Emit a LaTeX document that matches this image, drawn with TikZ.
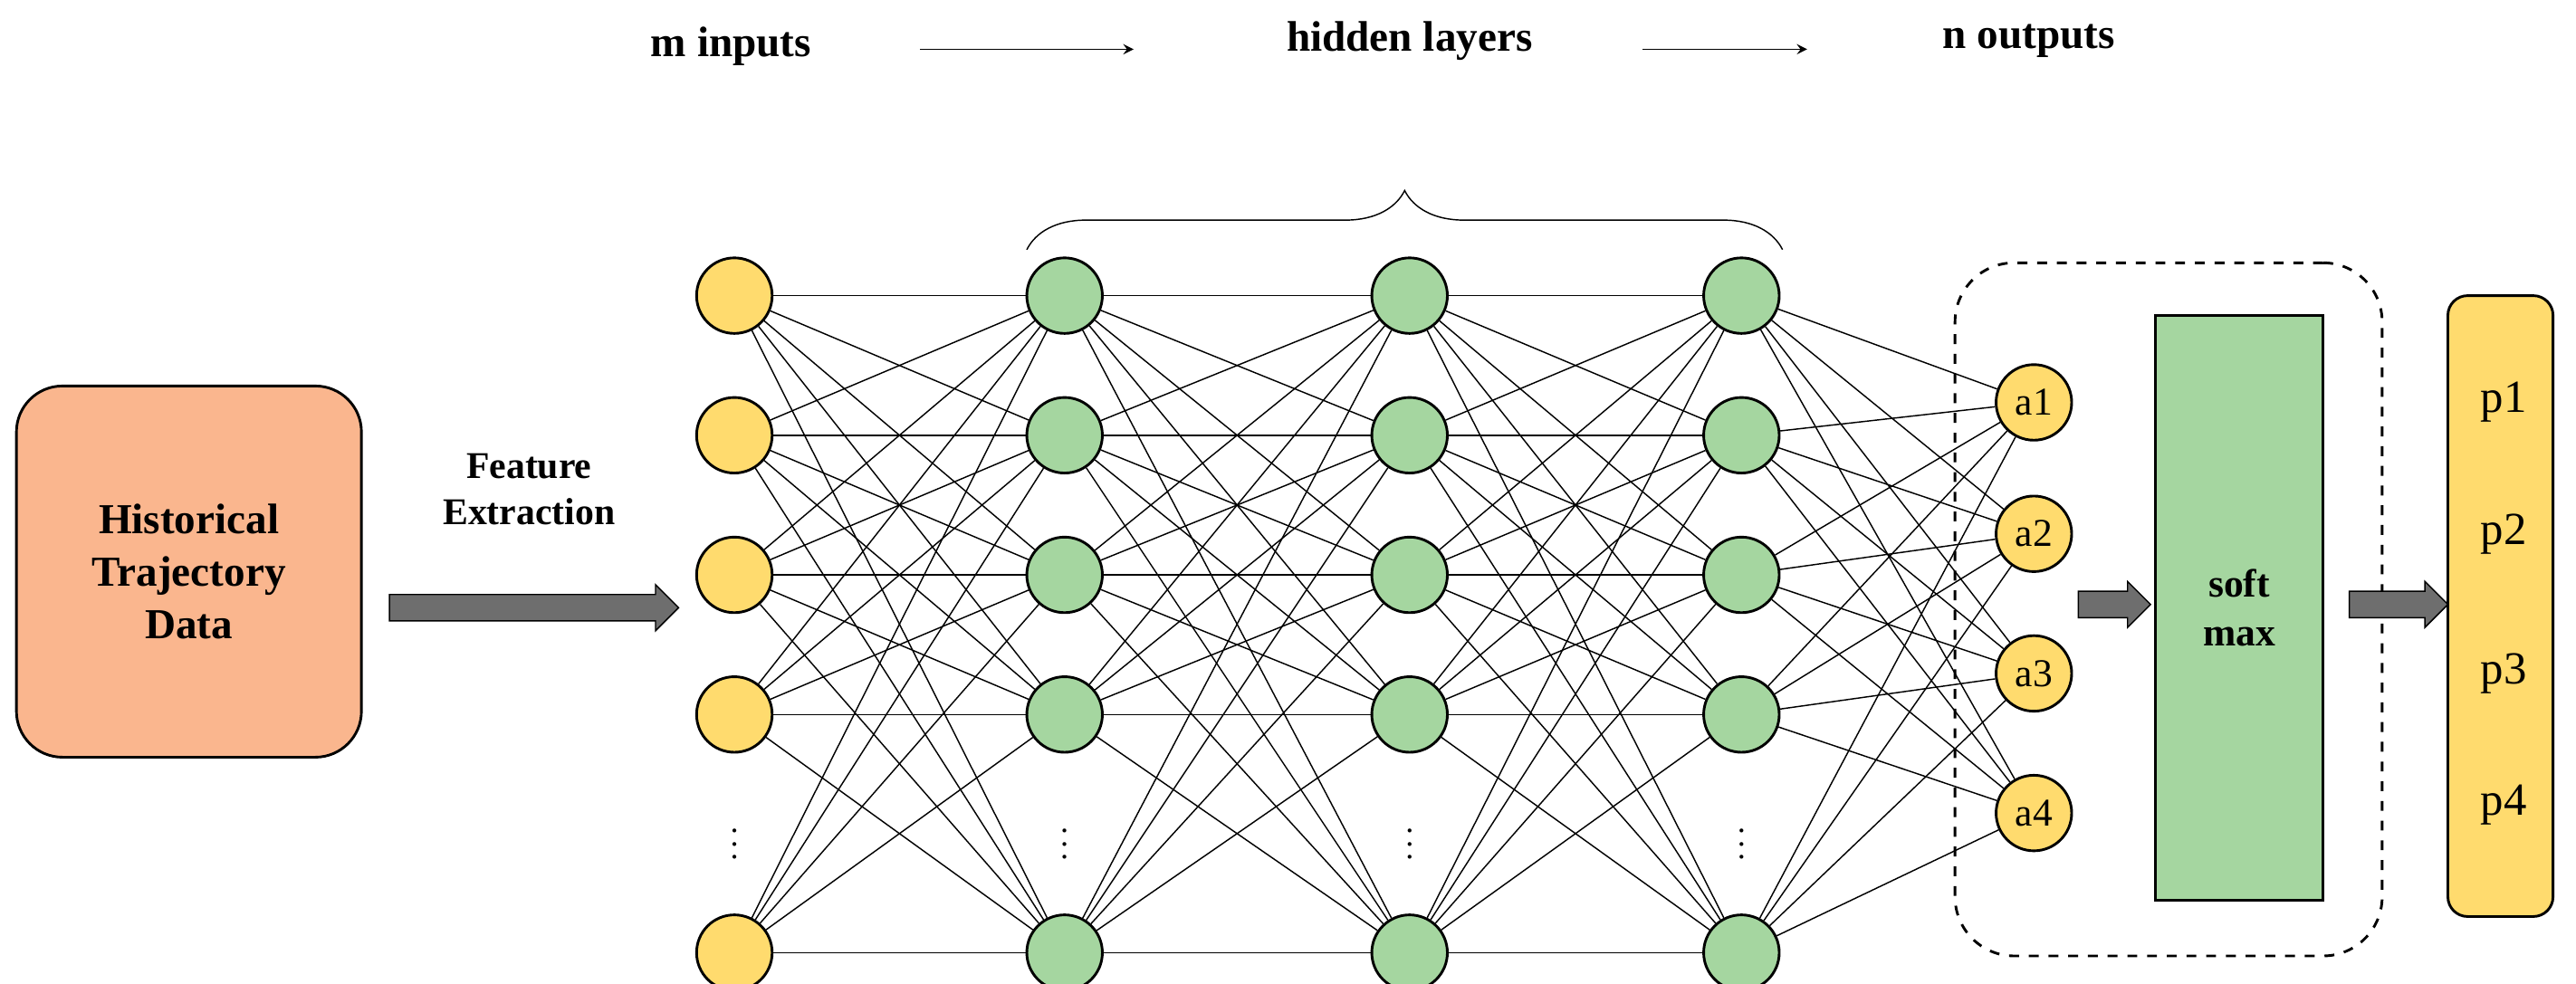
\documentclass[tikz,border=0pt]{standalone}
\usepackage{fontspec}
\setmainfont{Liberation Serif}
\usetikzlibrary{shapes.arrows,decorations.pathreplacing}
\definecolor{inyellow}{RGB}{255,219,110}
\definecolor{hidgreen}{RGB}{165,214,160}
\definecolor{boxorange}{RGB}{250,182,142}
\definecolor{fatgray}{RGB}{110,110,110}
\tikzset{in neuron/.style={draw, circle, thick, fill=inyellow, minimum size=23pt, inner sep=0pt},
hid neuron/.style={draw, circle, thick, fill=hidgreen, minimum size=23pt, inner sep=0pt},
out neuron/.style={draw, circle, thick, fill=inyellow, minimum size=23pt, inner sep=0pt, font=\fontsize{12}{12}\selectfont},
fat arrow/.style={single arrow, draw, fill=fatgray, minimum height=#1, minimum width=14pt, single arrow head extend=2pt, inner sep=2.5pt},
title text/.style={font=\bfseries\fontsize{13}{13}\selectfont},}

\begin{document}
\begin{tikzpicture}[x=0.5pt,y=-0.5pt]
\useasboundingbox (0,0) rectangle (1568,599);
% top labels
\node [title text] (minp) at (445,28) {m inputs};
\node [title text] (hid) at (858,25) {hidden layers};
\node [title text] (nout) at (1235,25) {n outputs};
\coordinate (a1s) at (560,30); \coordinate (a1e) at (690,30);
\coordinate (a2s) at (1000,30); \coordinate (a2e) at (1100,30);
\draw [-stealth] (a1s) -- (a1e);
\draw [-stealth] (a2s) -- (a2e);
\coordinate (brl) at (625,152); \coordinate (brr) at (1085,152);
\draw [decorate, decoration={brace, amplitude=18pt}] (brl) -- (brr);
% input box
\node [draw, thick, rounded corners=14pt, fill=boxorange, minimum width=105pt, minimum height=113pt, align=center, font=\bfseries\fontsize{13}{16}\selectfont] (data) at (115,348) {Historical\\Trajectory\\Data};
\node [align=center, font=\bfseries\fontsize{11.5}{14}\selectfont] (feat) at (322,298) {Feature\\Extraction};
\node [fat arrow=88pt] (fa1) at (321,370) {};
% neurons
\foreach \r/\y in {1/180,2/265,3/350,4/435,5/580}{
\node [in neuron] (i\r) at (447,\y) {};
\node [hid neuron] (h\r) at (648,\y) {};
\node [hid neuron] (g\r) at (858,\y) {};
\node [hid neuron] (k\r) at (1060,\y) {};
}
\foreach \x in {447,648,858,1060}{
\node (dots\x) at (\x,508) {$\vdots$};
}
\foreach \r/\y in {1/245,2/325,3/410,4/495}{
\node [out neuron] (o\r) at (1238,\y) {a\r};
}
\foreach \a in {1,...,5}{
\foreach \b in {1,...,5}{
\draw [thin] (i\a) -- (h\b);
\draw [thin] (h\a) -- (g\b);
\draw [thin] (g\a) -- (k\b);
}
\foreach \b in {1,...,4}{
\draw [thin] (k\a) -- (o\b);
}
}
% softmax part
\node [draw, thick, dashed, rounded corners=18pt, minimum width=130pt, minimum height=211pt] (dash) at (1320,371) {};
\node [draw, thick, fill=hidgreen, minimum width=51pt, minimum height=178pt, align=center, font=\bfseries\fontsize{12}{15}\selectfont] (soft) at (1363,370) {soft\\max};
\node [fat arrow=22pt] (fa2) at (1283,368) {};
\node [fat arrow=30pt] (fa3) at (1456,368) {};
\node [draw, thick, rounded corners=6pt, fill=inyellow, minimum width=32pt, minimum height=189pt] (pbox) at (1522,369) {};
\foreach \r/\y in {1/245,2/325,3/410,4/490}{
\node [font=\fontsize{14}{14}\selectfont] (p\r) at (1524,\y) {p\r};
}
\end{tikzpicture}
\end{document}
